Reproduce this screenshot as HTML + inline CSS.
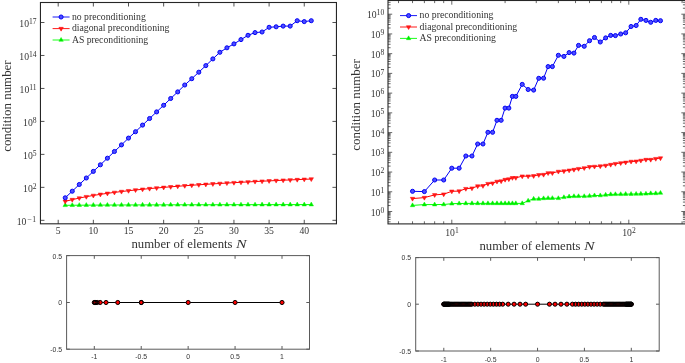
<!DOCTYPE html>
<html><head><meta charset="utf-8"><style>html,body{margin:0;padding:0;background:#fff;overflow:hidden}svg{display:block;will-change:transform}</style></head>
<body><svg width="685" height="363" viewBox="0 0 685 363"><rect x="40.45" y="2.5" width="296" height="221.3" fill="none" stroke="#262626" stroke-width="1.1"/><path d="M58.2,223.8v-4M58.2,2.5v4M93.35,223.8v-4M93.35,2.5v4M128.5,223.8v-4M128.5,2.5v4M163.65,223.8v-4M163.65,2.5v4M198.8,223.8v-4M198.8,2.5v4M233.95,223.8v-4M233.95,2.5v4M269.1,223.8v-4M269.1,2.5v4M304.25,223.8v-4M304.25,2.5v4M40.45,220.32h4M336.45,220.32h-4M40.45,187.35h4M336.45,187.35h-4M40.45,154.38h4M336.45,154.38h-4M40.45,121.41h4M336.45,121.41h-4M40.45,88.44h4M336.45,88.44h-4M40.45,55.47h4M336.45,55.47h-4M40.45,22.5h4M336.45,22.5h-4" stroke="#262626" stroke-width="0.8" fill="none"/><text x="58.2" y="234.1" text-anchor="middle" style="font-family:'Liberation Serif',serif;fill:#333;font-size:9.7px">5</text><text x="93.35" y="234.1" text-anchor="middle" style="font-family:'Liberation Serif',serif;fill:#333;font-size:9.7px">10</text><text x="128.5" y="234.1" text-anchor="middle" style="font-family:'Liberation Serif',serif;fill:#333;font-size:9.7px">15</text><text x="163.65" y="234.1" text-anchor="middle" style="font-family:'Liberation Serif',serif;fill:#333;font-size:9.7px">20</text><text x="198.8" y="234.1" text-anchor="middle" style="font-family:'Liberation Serif',serif;fill:#333;font-size:9.7px">25</text><text x="233.95" y="234.1" text-anchor="middle" style="font-family:'Liberation Serif',serif;fill:#333;font-size:9.7px">30</text><text x="269.1" y="234.1" text-anchor="middle" style="font-family:'Liberation Serif',serif;fill:#333;font-size:9.7px">35</text><text x="304.25" y="234.1" text-anchor="middle" style="font-family:'Liberation Serif',serif;fill:#333;font-size:9.7px">40</text><text x="16.7" y="224.67" style="font-family:'Liberation Serif',serif;fill:#333;font-size:9.7px">10</text><text x="27.2" y="221.77" textLength="4.6" lengthAdjust="spacingAndGlyphs" style="font-family:'Liberation Serif',serif;fill:#333;font-size:7.6px">−</text><text x="32.3" y="221.77" style="font-family:'Liberation Serif',serif;fill:#333;font-size:7.6px">1</text><text x="36.6" y="191.7" text-anchor="end" style="font-family:'Liberation Serif',serif;fill:#333;font-size:9.7px">10<tspan dy="-2.9" style="font-size:7.6px">2</tspan></text><text x="36.6" y="158.73" text-anchor="end" style="font-family:'Liberation Serif',serif;fill:#333;font-size:9.7px">10<tspan dy="-2.9" style="font-size:7.6px">5</tspan></text><text x="36.6" y="125.76" text-anchor="end" style="font-family:'Liberation Serif',serif;fill:#333;font-size:9.7px">10<tspan dy="-2.9" style="font-size:7.6px">8</tspan></text><text x="36.6" y="92.79" text-anchor="end" style="font-family:'Liberation Serif',serif;fill:#333;font-size:9.7px">10<tspan dy="-2.9" style="font-size:7.6px">11</tspan></text><text x="36.6" y="59.82" text-anchor="end" style="font-family:'Liberation Serif',serif;fill:#333;font-size:9.7px">10<tspan dy="-2.9" style="font-size:7.6px">14</tspan></text><text x="36.6" y="26.85" text-anchor="end" style="font-family:'Liberation Serif',serif;fill:#333;font-size:9.7px">10<tspan dy="-2.9" style="font-size:7.6px">17</tspan></text><polyline points="65.23,205.3 72.26,205.24 79.29,205.2 86.32,205.15 93.35,205.11 100.38,205.08 107.41,205.05 114.44,205.02 121.47,204.99 128.5,204.97 135.53,204.94 142.56,204.92 149.59,204.9 156.62,204.88 163.65,204.86 170.68,204.84 177.71,204.83 184.74,204.81 191.77,204.8 198.8,204.78 205.83,204.77 212.86,204.75 219.89,204.74 226.92,204.73 233.95,204.71 240.98,204.7 248.01,204.69 255.04,204.68 262.07,204.67 269.1,204.66 276.13,204.65 283.16,204.64 290.19,204.63 297.22,204.62 304.25,204.61 311.28,204.6" fill="none" stroke="#00ff00" stroke-width="1.0" stroke-linejoin="round"/><polygon points="65.23,202.75 63.02,206.58 67.44,206.58" fill="#00e600" stroke="#00ff00" stroke-width="0.5"/><polygon points="72.26,202.69 70.05,206.52 74.47,206.52" fill="#00e600" stroke="#00ff00" stroke-width="0.5"/><polygon points="79.29,202.65 77.08,206.47 81.5,206.47" fill="#00e600" stroke="#00ff00" stroke-width="0.5"/><polygon points="86.32,202.6 84.11,206.43 88.53,206.43" fill="#00e600" stroke="#00ff00" stroke-width="0.5"/><polygon points="93.35,202.56 91.14,206.39 95.56,206.39" fill="#00e600" stroke="#00ff00" stroke-width="0.5"/><polygon points="100.38,202.53 98.17,206.35 102.59,206.35" fill="#00e600" stroke="#00ff00" stroke-width="0.5"/><polygon points="107.41,202.5 105.2,206.32 109.62,206.32" fill="#00e600" stroke="#00ff00" stroke-width="0.5"/><polygon points="114.44,202.47 112.23,206.29 116.65,206.29" fill="#00e600" stroke="#00ff00" stroke-width="0.5"/><polygon points="121.47,202.44 119.26,206.27 123.68,206.27" fill="#00e600" stroke="#00ff00" stroke-width="0.5"/><polygon points="128.5,202.42 126.29,206.24 130.71,206.24" fill="#00e600" stroke="#00ff00" stroke-width="0.5"/><polygon points="135.53,202.39 133.32,206.22 137.74,206.22" fill="#00e600" stroke="#00ff00" stroke-width="0.5"/><polygon points="142.56,202.37 140.35,206.2 144.77,206.2" fill="#00e600" stroke="#00ff00" stroke-width="0.5"/><polygon points="149.59,202.35 147.38,206.17 151.8,206.17" fill="#00e600" stroke="#00ff00" stroke-width="0.5"/><polygon points="156.62,202.33 154.41,206.16 158.83,206.16" fill="#00e600" stroke="#00ff00" stroke-width="0.5"/><polygon points="163.65,202.31 161.44,206.14 165.86,206.14" fill="#00e600" stroke="#00ff00" stroke-width="0.5"/><polygon points="170.68,202.29 168.47,206.12 172.89,206.12" fill="#00e600" stroke="#00ff00" stroke-width="0.5"/><polygon points="177.71,202.28 175.5,206.1 179.92,206.1" fill="#00e600" stroke="#00ff00" stroke-width="0.5"/><polygon points="184.74,202.26 182.53,206.09 186.95,206.09" fill="#00e600" stroke="#00ff00" stroke-width="0.5"/><polygon points="191.77,202.25 189.56,206.07 193.98,206.07" fill="#00e600" stroke="#00ff00" stroke-width="0.5"/><polygon points="198.8,202.23 196.59,206.06 201.01,206.06" fill="#00e600" stroke="#00ff00" stroke-width="0.5"/><polygon points="205.83,202.22 203.62,206.04 208.04,206.04" fill="#00e600" stroke="#00ff00" stroke-width="0.5"/><polygon points="212.86,202.2 210.65,206.03 215.07,206.03" fill="#00e600" stroke="#00ff00" stroke-width="0.5"/><polygon points="219.89,202.19 217.68,206.01 222.1,206.01" fill="#00e600" stroke="#00ff00" stroke-width="0.5"/><polygon points="226.92,202.18 224.71,206 229.13,206" fill="#00e600" stroke="#00ff00" stroke-width="0.5"/><polygon points="233.95,202.16 231.74,205.99 236.16,205.99" fill="#00e600" stroke="#00ff00" stroke-width="0.5"/><polygon points="240.98,202.15 238.77,205.98 243.19,205.98" fill="#00e600" stroke="#00ff00" stroke-width="0.5"/><polygon points="248.01,202.14 245.8,205.97 250.22,205.97" fill="#00e600" stroke="#00ff00" stroke-width="0.5"/><polygon points="255.04,202.13 252.83,205.95 257.25,205.95" fill="#00e600" stroke="#00ff00" stroke-width="0.5"/><polygon points="262.07,202.12 259.86,205.94 264.28,205.94" fill="#00e600" stroke="#00ff00" stroke-width="0.5"/><polygon points="269.1,202.11 266.89,205.93 271.31,205.93" fill="#00e600" stroke="#00ff00" stroke-width="0.5"/><polygon points="276.13,202.1 273.92,205.92 278.34,205.92" fill="#00e600" stroke="#00ff00" stroke-width="0.5"/><polygon points="283.16,202.09 280.95,205.91 285.37,205.91" fill="#00e600" stroke="#00ff00" stroke-width="0.5"/><polygon points="290.19,202.08 287.98,205.9 292.4,205.9" fill="#00e600" stroke="#00ff00" stroke-width="0.5"/><polygon points="297.22,202.07 295.01,205.89 299.43,205.89" fill="#00e600" stroke="#00ff00" stroke-width="0.5"/><polygon points="304.25,202.06 302.04,205.88 306.46,205.88" fill="#00e600" stroke="#00ff00" stroke-width="0.5"/><polygon points="311.28,202.05 309.07,205.88 313.49,205.88" fill="#00e600" stroke="#00ff00" stroke-width="0.5"/><polyline points="65.23,201.4 72.26,199.61 79.29,198.05 86.32,196.68 93.35,195.45 100.38,194.35 107.41,193.33 114.44,192.4 121.47,191.54 128.5,190.74 135.53,189.98 142.56,189.28 149.59,188.61 156.62,187.98 163.65,187.39 170.68,186.82 177.71,186.28 184.74,185.76 191.77,185.26 198.8,184.79 205.83,184.33 212.86,183.89 219.89,183.47 226.92,183.06 233.95,182.67 240.98,182.29 248.01,181.92 255.04,181.56 262.07,181.21 269.1,180.87 276.13,180.55 283.16,180.23 290.19,179.92 297.22,179.61 304.25,179.32 311.28,179.03" fill="none" stroke="#ff0000" stroke-width="1.0" stroke-linejoin="round"/><polygon points="65.23,203.95 63.02,200.12 67.44,200.12" fill="#ff1a1a" stroke="#ff0000" stroke-width="0.5"/><polygon points="72.26,202.16 70.05,198.33 74.47,198.33" fill="#ff1a1a" stroke="#ff0000" stroke-width="0.5"/><polygon points="79.29,200.6 77.08,196.78 81.5,196.78" fill="#ff1a1a" stroke="#ff0000" stroke-width="0.5"/><polygon points="86.32,199.23 84.11,195.41 88.53,195.41" fill="#ff1a1a" stroke="#ff0000" stroke-width="0.5"/><polygon points="93.35,198 91.14,194.18 95.56,194.18" fill="#ff1a1a" stroke="#ff0000" stroke-width="0.5"/><polygon points="100.38,196.9 98.17,193.07 102.59,193.07" fill="#ff1a1a" stroke="#ff0000" stroke-width="0.5"/><polygon points="107.41,195.88 105.2,192.06 109.62,192.06" fill="#ff1a1a" stroke="#ff0000" stroke-width="0.5"/><polygon points="114.44,194.95 112.23,191.13 116.65,191.13" fill="#ff1a1a" stroke="#ff0000" stroke-width="0.5"/><polygon points="121.47,194.09 119.26,190.26 123.68,190.26" fill="#ff1a1a" stroke="#ff0000" stroke-width="0.5"/><polygon points="128.5,193.29 126.29,189.46 130.71,189.46" fill="#ff1a1a" stroke="#ff0000" stroke-width="0.5"/><polygon points="135.53,192.53 133.32,188.71 137.74,188.71" fill="#ff1a1a" stroke="#ff0000" stroke-width="0.5"/><polygon points="142.56,191.83 140.35,188 144.77,188" fill="#ff1a1a" stroke="#ff0000" stroke-width="0.5"/><polygon points="149.59,191.16 147.38,187.34 151.8,187.34" fill="#ff1a1a" stroke="#ff0000" stroke-width="0.5"/><polygon points="156.62,190.53 154.41,186.71 158.83,186.71" fill="#ff1a1a" stroke="#ff0000" stroke-width="0.5"/><polygon points="163.65,189.94 161.44,186.11 165.86,186.11" fill="#ff1a1a" stroke="#ff0000" stroke-width="0.5"/><polygon points="170.68,189.37 168.47,185.54 172.89,185.54" fill="#ff1a1a" stroke="#ff0000" stroke-width="0.5"/><polygon points="177.71,188.83 175.5,185 179.92,185" fill="#ff1a1a" stroke="#ff0000" stroke-width="0.5"/><polygon points="184.74,188.31 182.53,184.49 186.95,184.49" fill="#ff1a1a" stroke="#ff0000" stroke-width="0.5"/><polygon points="191.77,187.81 189.56,183.99 193.98,183.99" fill="#ff1a1a" stroke="#ff0000" stroke-width="0.5"/><polygon points="198.8,187.34 196.59,183.51 201.01,183.51" fill="#ff1a1a" stroke="#ff0000" stroke-width="0.5"/><polygon points="205.83,186.88 203.62,183.06 208.04,183.06" fill="#ff1a1a" stroke="#ff0000" stroke-width="0.5"/><polygon points="212.86,186.44 210.65,182.62 215.07,182.62" fill="#ff1a1a" stroke="#ff0000" stroke-width="0.5"/><polygon points="219.89,186.02 217.68,182.2 222.1,182.2" fill="#ff1a1a" stroke="#ff0000" stroke-width="0.5"/><polygon points="226.92,185.61 224.71,181.79 229.13,181.79" fill="#ff1a1a" stroke="#ff0000" stroke-width="0.5"/><polygon points="233.95,185.22 231.74,181.39 236.16,181.39" fill="#ff1a1a" stroke="#ff0000" stroke-width="0.5"/><polygon points="240.98,184.84 238.77,181.01 243.19,181.01" fill="#ff1a1a" stroke="#ff0000" stroke-width="0.5"/><polygon points="248.01,184.47 245.8,180.64 250.22,180.64" fill="#ff1a1a" stroke="#ff0000" stroke-width="0.5"/><polygon points="255.04,184.11 252.83,180.28 257.25,180.28" fill="#ff1a1a" stroke="#ff0000" stroke-width="0.5"/><polygon points="262.07,183.76 259.86,179.94 264.28,179.94" fill="#ff1a1a" stroke="#ff0000" stroke-width="0.5"/><polygon points="269.1,183.42 266.89,179.6 271.31,179.6" fill="#ff1a1a" stroke="#ff0000" stroke-width="0.5"/><polygon points="276.13,183.1 273.92,179.27 278.34,179.27" fill="#ff1a1a" stroke="#ff0000" stroke-width="0.5"/><polygon points="283.16,182.78 280.95,178.95 285.37,178.95" fill="#ff1a1a" stroke="#ff0000" stroke-width="0.5"/><polygon points="290.19,182.47 287.98,178.64 292.4,178.64" fill="#ff1a1a" stroke="#ff0000" stroke-width="0.5"/><polygon points="297.22,182.16 295.01,178.34 299.43,178.34" fill="#ff1a1a" stroke="#ff0000" stroke-width="0.5"/><polygon points="304.25,181.87 302.04,178.04 306.46,178.04" fill="#ff1a1a" stroke="#ff0000" stroke-width="0.5"/><polygon points="311.28,181.58 309.07,177.76 313.49,177.76" fill="#ff1a1a" stroke="#ff0000" stroke-width="0.5"/><polyline points="65.23,197.8 72.26,191.2 79.29,184.5 86.32,178 93.35,171.4 100.38,164.8 107.41,158.2 114.44,151.5 121.47,144.9 128.5,138.1 135.53,131.7 142.56,125.1 149.59,118.5 156.62,111.9 163.65,105.3 170.68,98.5 177.71,91.9 184.74,85 191.77,78.7 198.8,72.2 205.83,65.6 212.86,58.9 219.89,52.3 226.92,47.8 233.95,43.9 240.98,39.6 248.01,35.3 255.04,32.6 262.07,32 269.1,27.3 276.13,26.8 283.16,26.1 290.19,26.1 297.22,20.7 304.25,21.6 311.28,20.7" fill="none" stroke="#0000f5" stroke-width="1.0" stroke-linejoin="round"/><circle cx="65.23" cy="197.8" r="2.05" fill="#4d4dff" stroke="#0000f5" stroke-width="1.0"/><circle cx="72.26" cy="191.2" r="2.05" fill="#4d4dff" stroke="#0000f5" stroke-width="1.0"/><circle cx="79.29" cy="184.5" r="2.05" fill="#4d4dff" stroke="#0000f5" stroke-width="1.0"/><circle cx="86.32" cy="178" r="2.05" fill="#4d4dff" stroke="#0000f5" stroke-width="1.0"/><circle cx="93.35" cy="171.4" r="2.05" fill="#4d4dff" stroke="#0000f5" stroke-width="1.0"/><circle cx="100.38" cy="164.8" r="2.05" fill="#4d4dff" stroke="#0000f5" stroke-width="1.0"/><circle cx="107.41" cy="158.2" r="2.05" fill="#4d4dff" stroke="#0000f5" stroke-width="1.0"/><circle cx="114.44" cy="151.5" r="2.05" fill="#4d4dff" stroke="#0000f5" stroke-width="1.0"/><circle cx="121.47" cy="144.9" r="2.05" fill="#4d4dff" stroke="#0000f5" stroke-width="1.0"/><circle cx="128.5" cy="138.1" r="2.05" fill="#4d4dff" stroke="#0000f5" stroke-width="1.0"/><circle cx="135.53" cy="131.7" r="2.05" fill="#4d4dff" stroke="#0000f5" stroke-width="1.0"/><circle cx="142.56" cy="125.1" r="2.05" fill="#4d4dff" stroke="#0000f5" stroke-width="1.0"/><circle cx="149.59" cy="118.5" r="2.05" fill="#4d4dff" stroke="#0000f5" stroke-width="1.0"/><circle cx="156.62" cy="111.9" r="2.05" fill="#4d4dff" stroke="#0000f5" stroke-width="1.0"/><circle cx="163.65" cy="105.3" r="2.05" fill="#4d4dff" stroke="#0000f5" stroke-width="1.0"/><circle cx="170.68" cy="98.5" r="2.05" fill="#4d4dff" stroke="#0000f5" stroke-width="1.0"/><circle cx="177.71" cy="91.9" r="2.05" fill="#4d4dff" stroke="#0000f5" stroke-width="1.0"/><circle cx="184.74" cy="85" r="2.05" fill="#4d4dff" stroke="#0000f5" stroke-width="1.0"/><circle cx="191.77" cy="78.7" r="2.05" fill="#4d4dff" stroke="#0000f5" stroke-width="1.0"/><circle cx="198.8" cy="72.2" r="2.05" fill="#4d4dff" stroke="#0000f5" stroke-width="1.0"/><circle cx="205.83" cy="65.6" r="2.05" fill="#4d4dff" stroke="#0000f5" stroke-width="1.0"/><circle cx="212.86" cy="58.9" r="2.05" fill="#4d4dff" stroke="#0000f5" stroke-width="1.0"/><circle cx="219.89" cy="52.3" r="2.05" fill="#4d4dff" stroke="#0000f5" stroke-width="1.0"/><circle cx="226.92" cy="47.8" r="2.05" fill="#4d4dff" stroke="#0000f5" stroke-width="1.0"/><circle cx="233.95" cy="43.9" r="2.05" fill="#4d4dff" stroke="#0000f5" stroke-width="1.0"/><circle cx="240.98" cy="39.6" r="2.05" fill="#4d4dff" stroke="#0000f5" stroke-width="1.0"/><circle cx="248.01" cy="35.3" r="2.05" fill="#4d4dff" stroke="#0000f5" stroke-width="1.0"/><circle cx="255.04" cy="32.6" r="2.05" fill="#4d4dff" stroke="#0000f5" stroke-width="1.0"/><circle cx="262.07" cy="32" r="2.05" fill="#4d4dff" stroke="#0000f5" stroke-width="1.0"/><circle cx="269.1" cy="27.3" r="2.05" fill="#4d4dff" stroke="#0000f5" stroke-width="1.0"/><circle cx="276.13" cy="26.8" r="2.05" fill="#4d4dff" stroke="#0000f5" stroke-width="1.0"/><circle cx="283.16" cy="26.1" r="2.05" fill="#4d4dff" stroke="#0000f5" stroke-width="1.0"/><circle cx="290.19" cy="26.1" r="2.05" fill="#4d4dff" stroke="#0000f5" stroke-width="1.0"/><circle cx="297.22" cy="20.7" r="2.05" fill="#4d4dff" stroke="#0000f5" stroke-width="1.0"/><circle cx="304.25" cy="21.6" r="2.05" fill="#4d4dff" stroke="#0000f5" stroke-width="1.0"/><circle cx="311.28" cy="20.7" r="2.05" fill="#4d4dff" stroke="#0000f5" stroke-width="1.0"/><line x1="52.6" y1="17.0" x2="69.6" y2="17.0" stroke="#0000f5" stroke-width="0.9"/><circle cx="61.1" cy="17" r="2.05" fill="#4d4dff" stroke="#0000f5" stroke-width="1.0"/><line x1="52.6" y1="28.6" x2="69.6" y2="28.6" stroke="#ff0000" stroke-width="0.9"/><polygon points="61.1,31.15 58.89,27.33 63.31,27.33" fill="#ff1a1a" stroke="#ff0000" stroke-width="0.5"/><line x1="52.6" y1="40.0" x2="69.6" y2="40.0" stroke="#00ff00" stroke-width="0.9"/><polygon points="61.1,37.45 58.89,41.27 63.31,41.27" fill="#00e600" stroke="#00ff00" stroke-width="0.5"/><text x="71.9" y="19.5" textLength="73.9" lengthAdjust="spacingAndGlyphs" style="font-family:'Liberation Serif',serif;fill:#333;font-size:9.3px">no preconditioning</text><text x="71.9" y="31.1" textLength="97.6" lengthAdjust="spacingAndGlyphs" style="font-family:'Liberation Serif',serif;fill:#333;font-size:9.3px">diagonal preconditioning</text><text x="71.9" y="42.5" textLength="76.3" lengthAdjust="spacingAndGlyphs" style="font-family:'Liberation Serif',serif;fill:#333;font-size:9.3px">AS preconditioning</text><text x="131.4" y="247.8" textLength="101.2" lengthAdjust="spacingAndGlyphs" style="font-family:'Liberation Serif',serif;fill:#333;font-size:12.8px">number of elements</text><text x="236.0" y="247.8" textLength="10.6" lengthAdjust="spacingAndGlyphs" style="font-family:'Liberation Serif',serif;fill:#333;font-size:13.2px;font-style:italic">N</text><text transform="translate(10.8,106.1) rotate(-90)" text-anchor="middle" textLength="91.5" lengthAdjust="spacingAndGlyphs" style="font-family:'Liberation Serif',serif;fill:#333;font-size:12.8px">condition number</text><rect x="388.0" y="0.5" width="297.5" height="223.4" fill="none" stroke="#262626" stroke-width="1.1"/><path d="M398.52,223.9v-2.6M398.52,0.5v2.6M412.53,223.9v-2.6M412.53,0.5v2.6M424.38,223.9v-2.6M424.38,0.5v2.6M434.65,223.9v-2.6M434.65,0.5v2.6M443.7,223.9v-2.6M443.7,0.5v2.6M505.08,223.9v-2.6M505.08,0.5v2.6M536.25,223.9v-2.6M536.25,0.5v2.6M558.36,223.9v-2.6M558.36,0.5v2.6M575.52,223.9v-2.6M575.52,0.5v2.6M589.53,223.9v-2.6M589.53,0.5v2.6M601.38,223.9v-2.6M601.38,0.5v2.6M611.65,223.9v-2.6M611.65,0.5v2.6M620.7,223.9v-2.6M620.7,0.5v2.6M682.08,223.9v-2.6M682.08,0.5v2.6M451.8,223.9v-4.2M451.8,0.5v4.2M628.8,223.9v-4.2M628.8,0.5v4.2M388.0,221.82h2.6M685.5,221.82h-2.6M388.0,219.35h2.6M685.5,219.35h-2.6M388.0,217.44h2.6M685.5,217.44h-2.6M388.0,215.88h2.6M685.5,215.88h-2.6M388.0,214.56h2.6M685.5,214.56h-2.6M388.0,213.41h2.6M685.5,213.41h-2.6M388.0,212.4h2.6M685.5,212.4h-2.6M388.0,211.5h4.2M685.5,211.5h-4.2M388.0,205.56h2.6M685.5,205.56h-2.6M388.0,202.09h2.6M685.5,202.09h-2.6M388.0,199.62h2.6M685.5,199.62h-2.6M388.0,197.71h2.6M685.5,197.71h-2.6M388.0,196.15h2.6M685.5,196.15h-2.6M388.0,194.83h2.6M685.5,194.83h-2.6M388.0,193.68h2.6M685.5,193.68h-2.6M388.0,192.67h2.6M685.5,192.67h-2.6M388.0,191.77h4.2M685.5,191.77h-4.2M388.0,185.83h2.6M685.5,185.83h-2.6M388.0,182.36h2.6M685.5,182.36h-2.6M388.0,179.89h2.6M685.5,179.89h-2.6M388.0,177.98h2.6M685.5,177.98h-2.6M388.0,176.42h2.6M685.5,176.42h-2.6M388.0,175.1h2.6M685.5,175.1h-2.6M388.0,173.95h2.6M685.5,173.95h-2.6M388.0,172.94h2.6M685.5,172.94h-2.6M388.0,172.04h4.2M685.5,172.04h-4.2M388.0,166.1h2.6M685.5,166.1h-2.6M388.0,162.63h2.6M685.5,162.63h-2.6M388.0,160.16h2.6M685.5,160.16h-2.6M388.0,158.25h2.6M685.5,158.25h-2.6M388.0,156.69h2.6M685.5,156.69h-2.6M388.0,155.37h2.6M685.5,155.37h-2.6M388.0,154.22h2.6M685.5,154.22h-2.6M388.0,153.21h2.6M685.5,153.21h-2.6M388.0,152.31h4.2M685.5,152.31h-4.2M388.0,146.37h2.6M685.5,146.37h-2.6M388.0,142.9h2.6M685.5,142.9h-2.6M388.0,140.43h2.6M685.5,140.43h-2.6M388.0,138.52h2.6M685.5,138.52h-2.6M388.0,136.96h2.6M685.5,136.96h-2.6M388.0,135.64h2.6M685.5,135.64h-2.6M388.0,134.49h2.6M685.5,134.49h-2.6M388.0,133.48h2.6M685.5,133.48h-2.6M388.0,132.58h4.2M685.5,132.58h-4.2M388.0,126.64h2.6M685.5,126.64h-2.6M388.0,123.17h2.6M685.5,123.17h-2.6M388.0,120.7h2.6M685.5,120.7h-2.6M388.0,118.79h2.6M685.5,118.79h-2.6M388.0,117.23h2.6M685.5,117.23h-2.6M388.0,115.91h2.6M685.5,115.91h-2.6M388.0,114.76h2.6M685.5,114.76h-2.6M388.0,113.75h2.6M685.5,113.75h-2.6M388.0,112.85h4.2M685.5,112.85h-4.2M388.0,106.91h2.6M685.5,106.91h-2.6M388.0,103.44h2.6M685.5,103.44h-2.6M388.0,100.97h2.6M685.5,100.97h-2.6M388.0,99.06h2.6M685.5,99.06h-2.6M388.0,97.5h2.6M685.5,97.5h-2.6M388.0,96.18h2.6M685.5,96.18h-2.6M388.0,95.03h2.6M685.5,95.03h-2.6M388.0,94.02h2.6M685.5,94.02h-2.6M388.0,93.12h4.2M685.5,93.12h-4.2M388.0,87.18h2.6M685.5,87.18h-2.6M388.0,83.71h2.6M685.5,83.71h-2.6M388.0,81.24h2.6M685.5,81.24h-2.6M388.0,79.33h2.6M685.5,79.33h-2.6M388.0,77.77h2.6M685.5,77.77h-2.6M388.0,76.45h2.6M685.5,76.45h-2.6M388.0,75.3h2.6M685.5,75.3h-2.6M388.0,74.29h2.6M685.5,74.29h-2.6M388.0,73.39h4.2M685.5,73.39h-4.2M388.0,67.45h2.6M685.5,67.45h-2.6M388.0,63.98h2.6M685.5,63.98h-2.6M388.0,61.51h2.6M685.5,61.51h-2.6M388.0,59.6h2.6M685.5,59.6h-2.6M388.0,58.04h2.6M685.5,58.04h-2.6M388.0,56.72h2.6M685.5,56.72h-2.6M388.0,55.57h2.6M685.5,55.57h-2.6M388.0,54.56h2.6M685.5,54.56h-2.6M388.0,53.66h4.2M685.5,53.66h-4.2M388.0,47.72h2.6M685.5,47.72h-2.6M388.0,44.25h2.6M685.5,44.25h-2.6M388.0,41.78h2.6M685.5,41.78h-2.6M388.0,39.87h2.6M685.5,39.87h-2.6M388.0,38.31h2.6M685.5,38.31h-2.6M388.0,36.99h2.6M685.5,36.99h-2.6M388.0,35.84h2.6M685.5,35.84h-2.6M388.0,34.83h2.6M685.5,34.83h-2.6M388.0,33.93h4.2M685.5,33.93h-4.2M388.0,27.99h2.6M685.5,27.99h-2.6M388.0,24.52h2.6M685.5,24.52h-2.6M388.0,22.05h2.6M685.5,22.05h-2.6M388.0,20.14h2.6M685.5,20.14h-2.6M388.0,18.58h2.6M685.5,18.58h-2.6M388.0,17.26h2.6M685.5,17.26h-2.6M388.0,16.11h2.6M685.5,16.11h-2.6M388.0,15.1h2.6M685.5,15.1h-2.6M388.0,14.2h4.2M685.5,14.2h-4.2M388.0,8.26h2.6M685.5,8.26h-2.6M388.0,4.79h2.6M685.5,4.79h-2.6M388.0,2.32h2.6M685.5,2.32h-2.6" stroke="#262626" stroke-width="0.7" fill="none"/><text x="384.2" y="215.6" text-anchor="end" style="font-family:'Liberation Serif',serif;fill:#333;font-size:9.7px">10<tspan dy="-2.9" style="font-size:7.6px">0</tspan></text><text x="384.2" y="195.87" text-anchor="end" style="font-family:'Liberation Serif',serif;fill:#333;font-size:9.7px">10<tspan dy="-2.9" style="font-size:7.6px">1</tspan></text><text x="384.2" y="176.14" text-anchor="end" style="font-family:'Liberation Serif',serif;fill:#333;font-size:9.7px">10<tspan dy="-2.9" style="font-size:7.6px">2</tspan></text><text x="384.2" y="156.41" text-anchor="end" style="font-family:'Liberation Serif',serif;fill:#333;font-size:9.7px">10<tspan dy="-2.9" style="font-size:7.6px">3</tspan></text><text x="384.2" y="136.68" text-anchor="end" style="font-family:'Liberation Serif',serif;fill:#333;font-size:9.7px">10<tspan dy="-2.9" style="font-size:7.6px">4</tspan></text><text x="384.2" y="116.95" text-anchor="end" style="font-family:'Liberation Serif',serif;fill:#333;font-size:9.7px">10<tspan dy="-2.9" style="font-size:7.6px">5</tspan></text><text x="384.2" y="97.22" text-anchor="end" style="font-family:'Liberation Serif',serif;fill:#333;font-size:9.7px">10<tspan dy="-2.9" style="font-size:7.6px">6</tspan></text><text x="384.2" y="77.49" text-anchor="end" style="font-family:'Liberation Serif',serif;fill:#333;font-size:9.7px">10<tspan dy="-2.9" style="font-size:7.6px">7</tspan></text><text x="384.2" y="57.76" text-anchor="end" style="font-family:'Liberation Serif',serif;fill:#333;font-size:9.7px">10<tspan dy="-2.9" style="font-size:7.6px">8</tspan></text><text x="384.2" y="38.03" text-anchor="end" style="font-family:'Liberation Serif',serif;fill:#333;font-size:9.7px">10<tspan dy="-2.9" style="font-size:7.6px">9</tspan></text><text x="384.2" y="18.3" text-anchor="end" style="font-family:'Liberation Serif',serif;fill:#333;font-size:9.7px">10<tspan dy="-2.9" style="font-size:7.6px">10</tspan></text><text x="452" y="235.6" text-anchor="middle" style="font-family:'Liberation Serif',serif;fill:#333;font-size:9.7px">10<tspan dy="-2.9" style="font-size:7.6px">1</tspan></text><text x="629" y="235.6" text-anchor="middle" style="font-family:'Liberation Serif',serif;fill:#333;font-size:9.7px">10<tspan dy="-2.9" style="font-size:7.6px">2</tspan></text><polyline points="412.53,205.4 424.38,204.6 434.65,204.6 443.7,204.5 451.8,203.7 459.13,203.5 465.82,203.4 471.97,203.4 477.66,203.4 482.97,203.4 487.93,203.4 492.59,203.4 496.98,203.4 501.14,203.4 505.08,203.4 508.83,203.4 512.41,203.4 515.83,203.4 522.24,203.4 528.15,200.8 533.64,198.9 538.77,199 543.58,198.4 548.1,198.2 552.37,198.2 558.36,198.3 563.92,197.3 569.11,196.6 573.96,196.3 578.53,196.3 584.23,196.3 589.53,196 594.49,195.5 600.28,195.5 605.65,194.9 610.68,194.4 615.4,194.3 620.7,194.3 625.66,194.1 631.07,194.1 636.13,194 640.87,193.9 645.95,193.8 650.72,193.4 655.76,193.4 660.48,193" fill="none" stroke="#00ff00" stroke-width="1.0" stroke-linejoin="round"/><polygon points="412.53,202.85 410.32,206.68 414.74,206.68" fill="#00e600" stroke="#00ff00" stroke-width="0.5"/><polygon points="424.38,202.05 422.17,205.88 426.59,205.88" fill="#00e600" stroke="#00ff00" stroke-width="0.5"/><polygon points="434.65,202.05 432.44,205.88 436.86,205.88" fill="#00e600" stroke="#00ff00" stroke-width="0.5"/><polygon points="443.7,201.95 441.49,205.78 445.91,205.78" fill="#00e600" stroke="#00ff00" stroke-width="0.5"/><polygon points="451.8,201.15 449.59,204.97 454.01,204.97" fill="#00e600" stroke="#00ff00" stroke-width="0.5"/><polygon points="459.13,200.95 456.92,204.78 461.33,204.78" fill="#00e600" stroke="#00ff00" stroke-width="0.5"/><polygon points="465.82,200.85 463.61,204.68 468.02,204.68" fill="#00e600" stroke="#00ff00" stroke-width="0.5"/><polygon points="471.97,200.85 469.76,204.68 474.18,204.68" fill="#00e600" stroke="#00ff00" stroke-width="0.5"/><polygon points="477.66,200.85 475.46,204.68 479.87,204.68" fill="#00e600" stroke="#00ff00" stroke-width="0.5"/><polygon points="482.97,200.85 480.76,204.68 485.18,204.68" fill="#00e600" stroke="#00ff00" stroke-width="0.5"/><polygon points="487.93,200.85 485.72,204.68 490.14,204.68" fill="#00e600" stroke="#00ff00" stroke-width="0.5"/><polygon points="492.59,200.85 490.38,204.68 494.8,204.68" fill="#00e600" stroke="#00ff00" stroke-width="0.5"/><polygon points="496.98,200.85 494.77,204.68 499.19,204.68" fill="#00e600" stroke="#00ff00" stroke-width="0.5"/><polygon points="501.14,200.85 498.93,204.68 503.35,204.68" fill="#00e600" stroke="#00ff00" stroke-width="0.5"/><polygon points="505.08,200.85 502.87,204.68 507.29,204.68" fill="#00e600" stroke="#00ff00" stroke-width="0.5"/><polygon points="508.83,200.85 506.62,204.68 511.04,204.68" fill="#00e600" stroke="#00ff00" stroke-width="0.5"/><polygon points="512.41,200.85 510.2,204.68 514.62,204.68" fill="#00e600" stroke="#00ff00" stroke-width="0.5"/><polygon points="515.83,200.85 513.62,204.68 518.03,204.68" fill="#00e600" stroke="#00ff00" stroke-width="0.5"/><polygon points="522.24,200.85 520.03,204.68 524.44,204.68" fill="#00e600" stroke="#00ff00" stroke-width="0.5"/><polygon points="528.15,198.25 525.94,202.08 530.36,202.08" fill="#00e600" stroke="#00ff00" stroke-width="0.5"/><polygon points="533.64,196.35 531.44,200.18 535.85,200.18" fill="#00e600" stroke="#00ff00" stroke-width="0.5"/><polygon points="538.77,196.45 536.56,200.28 540.98,200.28" fill="#00e600" stroke="#00ff00" stroke-width="0.5"/><polygon points="543.58,195.85 541.37,199.68 545.79,199.68" fill="#00e600" stroke="#00ff00" stroke-width="0.5"/><polygon points="548.1,195.65 545.89,199.47 550.31,199.47" fill="#00e600" stroke="#00ff00" stroke-width="0.5"/><polygon points="552.37,195.65 550.16,199.47 554.58,199.47" fill="#00e600" stroke="#00ff00" stroke-width="0.5"/><polygon points="558.36,195.75 556.16,199.58 560.57,199.58" fill="#00e600" stroke="#00ff00" stroke-width="0.5"/><polygon points="563.92,194.75 561.72,198.58 566.13,198.58" fill="#00e600" stroke="#00ff00" stroke-width="0.5"/><polygon points="569.11,194.05 566.9,197.88 571.32,197.88" fill="#00e600" stroke="#00ff00" stroke-width="0.5"/><polygon points="573.96,193.75 571.76,197.58 576.17,197.58" fill="#00e600" stroke="#00ff00" stroke-width="0.5"/><polygon points="578.53,193.75 576.32,197.58 580.74,197.58" fill="#00e600" stroke="#00ff00" stroke-width="0.5"/><polygon points="584.23,193.75 582.02,197.58 586.44,197.58" fill="#00e600" stroke="#00ff00" stroke-width="0.5"/><polygon points="589.53,193.45 587.32,197.28 591.74,197.28" fill="#00e600" stroke="#00ff00" stroke-width="0.5"/><polygon points="594.49,192.95 592.29,196.78 596.7,196.78" fill="#00e600" stroke="#00ff00" stroke-width="0.5"/><polygon points="600.28,192.95 598.07,196.78 602.48,196.78" fill="#00e600" stroke="#00ff00" stroke-width="0.5"/><polygon points="605.65,192.35 603.45,196.18 607.86,196.18" fill="#00e600" stroke="#00ff00" stroke-width="0.5"/><polygon points="610.68,191.85 608.47,195.68 612.89,195.68" fill="#00e600" stroke="#00ff00" stroke-width="0.5"/><polygon points="615.4,191.75 613.19,195.58 617.61,195.58" fill="#00e600" stroke="#00ff00" stroke-width="0.5"/><polygon points="620.7,191.75 618.49,195.58 622.91,195.58" fill="#00e600" stroke="#00ff00" stroke-width="0.5"/><polygon points="625.66,191.55 623.45,195.38 627.87,195.38" fill="#00e600" stroke="#00ff00" stroke-width="0.5"/><polygon points="631.07,191.55 628.86,195.38 633.28,195.38" fill="#00e600" stroke="#00ff00" stroke-width="0.5"/><polygon points="636.13,191.45 633.92,195.28 638.33,195.28" fill="#00e600" stroke="#00ff00" stroke-width="0.5"/><polygon points="640.87,191.35 638.66,195.18 643.08,195.18" fill="#00e600" stroke="#00ff00" stroke-width="0.5"/><polygon points="645.95,191.25 643.74,195.08 648.16,195.08" fill="#00e600" stroke="#00ff00" stroke-width="0.5"/><polygon points="650.72,190.85 648.51,194.68 652.93,194.68" fill="#00e600" stroke="#00ff00" stroke-width="0.5"/><polygon points="655.76,190.85 653.55,194.68 657.96,194.68" fill="#00e600" stroke="#00ff00" stroke-width="0.5"/><polygon points="660.48,190.45 658.27,194.28 662.69,194.28" fill="#00e600" stroke="#00ff00" stroke-width="0.5"/><polyline points="412.53,198.6 424.38,197.6 434.65,194.9 443.7,194.2 451.8,191.3 459.13,191.1 465.82,188.7 471.97,188.2 477.66,186.1 482.97,185.8 487.93,183.7 492.59,183.2 496.98,181.5 501.14,181.1 505.08,179.6 508.83,179.1 512.41,177.8 515.83,177.8 522.24,176.2 528.15,176.2 533.64,175.9 538.77,174.9 543.58,174.6 548.1,173 552.37,173 558.36,171.5 563.92,171.1 569.11,170.3 573.96,169.6 578.53,168.7 584.23,168 589.53,166.8 594.49,166.5 600.28,166.1 605.65,165.5 610.68,164.6 615.4,163.7 620.7,163 625.66,162.4 631.07,161.5 636.13,161.3 640.87,160.5 645.95,159.6 650.72,159.6 655.76,158.7 660.48,158.1" fill="none" stroke="#ff0000" stroke-width="1.0" stroke-linejoin="round"/><polygon points="412.53,201.15 410.32,197.32 414.74,197.32" fill="#ff1a1a" stroke="#ff0000" stroke-width="0.5"/><polygon points="424.38,200.15 422.17,196.32 426.59,196.32" fill="#ff1a1a" stroke="#ff0000" stroke-width="0.5"/><polygon points="434.65,197.45 432.44,193.62 436.86,193.62" fill="#ff1a1a" stroke="#ff0000" stroke-width="0.5"/><polygon points="443.7,196.75 441.49,192.92 445.91,192.92" fill="#ff1a1a" stroke="#ff0000" stroke-width="0.5"/><polygon points="451.8,193.85 449.59,190.03 454.01,190.03" fill="#ff1a1a" stroke="#ff0000" stroke-width="0.5"/><polygon points="459.13,193.65 456.92,189.82 461.33,189.82" fill="#ff1a1a" stroke="#ff0000" stroke-width="0.5"/><polygon points="465.82,191.25 463.61,187.42 468.02,187.42" fill="#ff1a1a" stroke="#ff0000" stroke-width="0.5"/><polygon points="471.97,190.75 469.76,186.92 474.18,186.92" fill="#ff1a1a" stroke="#ff0000" stroke-width="0.5"/><polygon points="477.66,188.65 475.46,184.82 479.87,184.82" fill="#ff1a1a" stroke="#ff0000" stroke-width="0.5"/><polygon points="482.97,188.35 480.76,184.53 485.18,184.53" fill="#ff1a1a" stroke="#ff0000" stroke-width="0.5"/><polygon points="487.93,186.25 485.72,182.42 490.14,182.42" fill="#ff1a1a" stroke="#ff0000" stroke-width="0.5"/><polygon points="492.59,185.75 490.38,181.92 494.8,181.92" fill="#ff1a1a" stroke="#ff0000" stroke-width="0.5"/><polygon points="496.98,184.05 494.77,180.22 499.19,180.22" fill="#ff1a1a" stroke="#ff0000" stroke-width="0.5"/><polygon points="501.14,183.65 498.93,179.82 503.35,179.82" fill="#ff1a1a" stroke="#ff0000" stroke-width="0.5"/><polygon points="505.08,182.15 502.87,178.32 507.29,178.32" fill="#ff1a1a" stroke="#ff0000" stroke-width="0.5"/><polygon points="508.83,181.65 506.62,177.82 511.04,177.82" fill="#ff1a1a" stroke="#ff0000" stroke-width="0.5"/><polygon points="512.41,180.35 510.2,176.53 514.62,176.53" fill="#ff1a1a" stroke="#ff0000" stroke-width="0.5"/><polygon points="515.83,180.35 513.62,176.53 518.03,176.53" fill="#ff1a1a" stroke="#ff0000" stroke-width="0.5"/><polygon points="522.24,178.75 520.03,174.92 524.44,174.92" fill="#ff1a1a" stroke="#ff0000" stroke-width="0.5"/><polygon points="528.15,178.75 525.94,174.92 530.36,174.92" fill="#ff1a1a" stroke="#ff0000" stroke-width="0.5"/><polygon points="533.64,178.45 531.44,174.62 535.85,174.62" fill="#ff1a1a" stroke="#ff0000" stroke-width="0.5"/><polygon points="538.77,177.45 536.56,173.62 540.98,173.62" fill="#ff1a1a" stroke="#ff0000" stroke-width="0.5"/><polygon points="543.58,177.15 541.37,173.32 545.79,173.32" fill="#ff1a1a" stroke="#ff0000" stroke-width="0.5"/><polygon points="548.1,175.55 545.89,171.72 550.31,171.72" fill="#ff1a1a" stroke="#ff0000" stroke-width="0.5"/><polygon points="552.37,175.55 550.16,171.72 554.58,171.72" fill="#ff1a1a" stroke="#ff0000" stroke-width="0.5"/><polygon points="558.36,174.05 556.16,170.22 560.57,170.22" fill="#ff1a1a" stroke="#ff0000" stroke-width="0.5"/><polygon points="563.92,173.65 561.72,169.82 566.13,169.82" fill="#ff1a1a" stroke="#ff0000" stroke-width="0.5"/><polygon points="569.11,172.85 566.9,169.03 571.32,169.03" fill="#ff1a1a" stroke="#ff0000" stroke-width="0.5"/><polygon points="573.96,172.15 571.76,168.32 576.17,168.32" fill="#ff1a1a" stroke="#ff0000" stroke-width="0.5"/><polygon points="578.53,171.25 576.32,167.42 580.74,167.42" fill="#ff1a1a" stroke="#ff0000" stroke-width="0.5"/><polygon points="584.23,170.55 582.02,166.72 586.44,166.72" fill="#ff1a1a" stroke="#ff0000" stroke-width="0.5"/><polygon points="589.53,169.35 587.32,165.53 591.74,165.53" fill="#ff1a1a" stroke="#ff0000" stroke-width="0.5"/><polygon points="594.49,169.05 592.29,165.22 596.7,165.22" fill="#ff1a1a" stroke="#ff0000" stroke-width="0.5"/><polygon points="600.28,168.65 598.07,164.82 602.48,164.82" fill="#ff1a1a" stroke="#ff0000" stroke-width="0.5"/><polygon points="605.65,168.05 603.45,164.22 607.86,164.22" fill="#ff1a1a" stroke="#ff0000" stroke-width="0.5"/><polygon points="610.68,167.15 608.47,163.32 612.89,163.32" fill="#ff1a1a" stroke="#ff0000" stroke-width="0.5"/><polygon points="615.4,166.25 613.19,162.42 617.61,162.42" fill="#ff1a1a" stroke="#ff0000" stroke-width="0.5"/><polygon points="620.7,165.55 618.49,161.72 622.91,161.72" fill="#ff1a1a" stroke="#ff0000" stroke-width="0.5"/><polygon points="625.66,164.95 623.45,161.12 627.87,161.12" fill="#ff1a1a" stroke="#ff0000" stroke-width="0.5"/><polygon points="631.07,164.05 628.86,160.22 633.28,160.22" fill="#ff1a1a" stroke="#ff0000" stroke-width="0.5"/><polygon points="636.13,163.85 633.92,160.03 638.33,160.03" fill="#ff1a1a" stroke="#ff0000" stroke-width="0.5"/><polygon points="640.87,163.05 638.66,159.22 643.08,159.22" fill="#ff1a1a" stroke="#ff0000" stroke-width="0.5"/><polygon points="645.95,162.15 643.74,158.32 648.16,158.32" fill="#ff1a1a" stroke="#ff0000" stroke-width="0.5"/><polygon points="650.72,162.15 648.51,158.32 652.93,158.32" fill="#ff1a1a" stroke="#ff0000" stroke-width="0.5"/><polygon points="655.76,161.25 653.55,157.42 657.96,157.42" fill="#ff1a1a" stroke="#ff0000" stroke-width="0.5"/><polygon points="660.48,160.65 658.27,156.82 662.69,156.82" fill="#ff1a1a" stroke="#ff0000" stroke-width="0.5"/><polyline points="412.53,191.3 424.38,191.6 434.65,180 443.7,180 451.8,168.2 459.13,168.2 465.82,156 471.97,156 477.66,144 482.97,144 487.93,132.3 492.59,132.3 496.98,120.3 501.14,120.3 505.08,108.1 508.83,108.1 512.41,96.4 515.83,96.4 522.24,84.4 528.15,89.5 533.64,90.1 538.77,78.3 543.58,78.2 548.1,66.6 552.37,66.6 558.36,55.3 563.92,56.4 569.11,52.6 573.96,53.1 578.53,45.4 584.23,46.3 589.53,40.7 594.49,37.5 600.28,42 605.65,37.9 610.68,35.4 615.4,35.6 620.7,34 625.66,32.8 631.07,26.5 636.13,25.5 640.87,19.3 645.95,20.4 650.72,22.3 655.76,20.4 660.48,20.7" fill="none" stroke="#0000f5" stroke-width="1.0" stroke-linejoin="round"/><circle cx="412.53" cy="191.3" r="2.05" fill="#4d4dff" stroke="#0000f5" stroke-width="1.0"/><circle cx="424.38" cy="191.6" r="2.05" fill="#4d4dff" stroke="#0000f5" stroke-width="1.0"/><circle cx="434.65" cy="180" r="2.05" fill="#4d4dff" stroke="#0000f5" stroke-width="1.0"/><circle cx="443.7" cy="180" r="2.05" fill="#4d4dff" stroke="#0000f5" stroke-width="1.0"/><circle cx="451.8" cy="168.2" r="2.05" fill="#4d4dff" stroke="#0000f5" stroke-width="1.0"/><circle cx="459.13" cy="168.2" r="2.05" fill="#4d4dff" stroke="#0000f5" stroke-width="1.0"/><circle cx="465.82" cy="156" r="2.05" fill="#4d4dff" stroke="#0000f5" stroke-width="1.0"/><circle cx="471.97" cy="156" r="2.05" fill="#4d4dff" stroke="#0000f5" stroke-width="1.0"/><circle cx="477.66" cy="144" r="2.05" fill="#4d4dff" stroke="#0000f5" stroke-width="1.0"/><circle cx="482.97" cy="144" r="2.05" fill="#4d4dff" stroke="#0000f5" stroke-width="1.0"/><circle cx="487.93" cy="132.3" r="2.05" fill="#4d4dff" stroke="#0000f5" stroke-width="1.0"/><circle cx="492.59" cy="132.3" r="2.05" fill="#4d4dff" stroke="#0000f5" stroke-width="1.0"/><circle cx="496.98" cy="120.3" r="2.05" fill="#4d4dff" stroke="#0000f5" stroke-width="1.0"/><circle cx="501.14" cy="120.3" r="2.05" fill="#4d4dff" stroke="#0000f5" stroke-width="1.0"/><circle cx="505.08" cy="108.1" r="2.05" fill="#4d4dff" stroke="#0000f5" stroke-width="1.0"/><circle cx="508.83" cy="108.1" r="2.05" fill="#4d4dff" stroke="#0000f5" stroke-width="1.0"/><circle cx="512.41" cy="96.4" r="2.05" fill="#4d4dff" stroke="#0000f5" stroke-width="1.0"/><circle cx="515.83" cy="96.4" r="2.05" fill="#4d4dff" stroke="#0000f5" stroke-width="1.0"/><circle cx="522.24" cy="84.4" r="2.05" fill="#4d4dff" stroke="#0000f5" stroke-width="1.0"/><circle cx="528.15" cy="89.5" r="2.05" fill="#4d4dff" stroke="#0000f5" stroke-width="1.0"/><circle cx="533.64" cy="90.1" r="2.05" fill="#4d4dff" stroke="#0000f5" stroke-width="1.0"/><circle cx="538.77" cy="78.3" r="2.05" fill="#4d4dff" stroke="#0000f5" stroke-width="1.0"/><circle cx="543.58" cy="78.2" r="2.05" fill="#4d4dff" stroke="#0000f5" stroke-width="1.0"/><circle cx="548.1" cy="66.6" r="2.05" fill="#4d4dff" stroke="#0000f5" stroke-width="1.0"/><circle cx="552.37" cy="66.6" r="2.05" fill="#4d4dff" stroke="#0000f5" stroke-width="1.0"/><circle cx="558.36" cy="55.3" r="2.05" fill="#4d4dff" stroke="#0000f5" stroke-width="1.0"/><circle cx="563.92" cy="56.4" r="2.05" fill="#4d4dff" stroke="#0000f5" stroke-width="1.0"/><circle cx="569.11" cy="52.6" r="2.05" fill="#4d4dff" stroke="#0000f5" stroke-width="1.0"/><circle cx="573.96" cy="53.1" r="2.05" fill="#4d4dff" stroke="#0000f5" stroke-width="1.0"/><circle cx="578.53" cy="45.4" r="2.05" fill="#4d4dff" stroke="#0000f5" stroke-width="1.0"/><circle cx="584.23" cy="46.3" r="2.05" fill="#4d4dff" stroke="#0000f5" stroke-width="1.0"/><circle cx="589.53" cy="40.7" r="2.05" fill="#4d4dff" stroke="#0000f5" stroke-width="1.0"/><circle cx="594.49" cy="37.5" r="2.05" fill="#4d4dff" stroke="#0000f5" stroke-width="1.0"/><circle cx="600.28" cy="42" r="2.05" fill="#4d4dff" stroke="#0000f5" stroke-width="1.0"/><circle cx="605.65" cy="37.9" r="2.05" fill="#4d4dff" stroke="#0000f5" stroke-width="1.0"/><circle cx="610.68" cy="35.4" r="2.05" fill="#4d4dff" stroke="#0000f5" stroke-width="1.0"/><circle cx="615.4" cy="35.6" r="2.05" fill="#4d4dff" stroke="#0000f5" stroke-width="1.0"/><circle cx="620.7" cy="34" r="2.05" fill="#4d4dff" stroke="#0000f5" stroke-width="1.0"/><circle cx="625.66" cy="32.8" r="2.05" fill="#4d4dff" stroke="#0000f5" stroke-width="1.0"/><circle cx="631.07" cy="26.5" r="2.05" fill="#4d4dff" stroke="#0000f5" stroke-width="1.0"/><circle cx="636.13" cy="25.5" r="2.05" fill="#4d4dff" stroke="#0000f5" stroke-width="1.0"/><circle cx="640.87" cy="19.3" r="2.05" fill="#4d4dff" stroke="#0000f5" stroke-width="1.0"/><circle cx="645.95" cy="20.4" r="2.05" fill="#4d4dff" stroke="#0000f5" stroke-width="1.0"/><circle cx="650.72" cy="22.3" r="2.05" fill="#4d4dff" stroke="#0000f5" stroke-width="1.0"/><circle cx="655.76" cy="20.4" r="2.05" fill="#4d4dff" stroke="#0000f5" stroke-width="1.0"/><circle cx="660.48" cy="20.7" r="2.05" fill="#4d4dff" stroke="#0000f5" stroke-width="1.0"/><line x1="400.0" y1="15.6" x2="417.0" y2="15.6" stroke="#0000f5" stroke-width="0.9"/><circle cx="408.6" cy="15.6" r="2.05" fill="#4d4dff" stroke="#0000f5" stroke-width="1.0"/><line x1="400.0" y1="27.0" x2="417.0" y2="27.0" stroke="#ff0000" stroke-width="0.9"/><polygon points="408.6,29.55 406.39,25.73 410.81,25.73" fill="#ff1a1a" stroke="#ff0000" stroke-width="0.5"/><line x1="400.0" y1="38.4" x2="417.0" y2="38.4" stroke="#00ff00" stroke-width="0.9"/><polygon points="408.6,35.85 406.39,39.67 410.81,39.67" fill="#00e600" stroke="#00ff00" stroke-width="0.5"/><text x="419.6" y="18.1" textLength="73.9" lengthAdjust="spacingAndGlyphs" style="font-family:'Liberation Serif',serif;fill:#333;font-size:9.3px">no preconditioning</text><text x="419.6" y="29.5" textLength="97.6" lengthAdjust="spacingAndGlyphs" style="font-family:'Liberation Serif',serif;fill:#333;font-size:9.3px">diagonal preconditioning</text><text x="419.6" y="40.9" textLength="76.3" lengthAdjust="spacingAndGlyphs" style="font-family:'Liberation Serif',serif;fill:#333;font-size:9.3px">AS preconditioning</text><text x="479.4" y="249.6" textLength="101.2" lengthAdjust="spacingAndGlyphs" style="font-family:'Liberation Serif',serif;fill:#333;font-size:12.8px">number of elements</text><text x="584.0" y="249.6" textLength="10.6" lengthAdjust="spacingAndGlyphs" style="font-family:'Liberation Serif',serif;fill:#333;font-size:13.2px;font-style:italic">N</text><text transform="translate(360.2,105.0) rotate(-90)" text-anchor="middle" textLength="91.5" lengthAdjust="spacingAndGlyphs" style="font-family:'Liberation Serif',serif;fill:#333;font-size:12.8px">condition number</text><rect x="66.6" y="255.6" width="242.9" height="93.6" fill="none" stroke="#5a5a5a" stroke-width="1"/><path d="M94.3,349.2v-3.2M94.3,255.6v3.2M141.23,349.2v-3.2M141.23,255.6v3.2M188.15,349.2v-3.2M188.15,255.6v3.2M235.07,349.2v-3.2M235.07,255.6v3.2M282,349.2v-3.2M282,255.6v3.2M66.6,255.6h3.2M309.5,255.6h-3.2M66.6,302.5h3.2M309.5,302.5h-3.2M66.6,349.2h3.2M309.5,349.2h-3.2" stroke="#5a5a5a" stroke-width="1" fill="none"/><text x="94.3" y="359.4" text-anchor="middle" style="font-family:'Liberation Sans',sans-serif;font-size:6.9px;fill:#333333">-1</text><text x="141.23" y="359.4" text-anchor="middle" style="font-family:'Liberation Sans',sans-serif;font-size:6.9px;fill:#333333">-0.5</text><text x="188.15" y="359.4" text-anchor="middle" style="font-family:'Liberation Sans',sans-serif;font-size:6.9px;fill:#333333">0</text><text x="235.07" y="359.4" text-anchor="middle" style="font-family:'Liberation Sans',sans-serif;font-size:6.9px;fill:#333333">0.5</text><text x="282" y="359.4" text-anchor="middle" style="font-family:'Liberation Sans',sans-serif;font-size:6.9px;fill:#333333">1</text><text x="62.2" y="258.5" text-anchor="end" style="font-family:'Liberation Sans',sans-serif;font-size:6.9px;fill:#333333">0.5</text><text x="62.2" y="304.8" text-anchor="end" style="font-family:'Liberation Sans',sans-serif;font-size:6.9px;fill:#333333">0</text><text x="62.2" y="351.8" text-anchor="end" style="font-family:'Liberation Sans',sans-serif;font-size:6.9px;fill:#333333">-0.5</text><line x1="94.3" y1="302.5" x2="282" y2="302.5" stroke="#000" stroke-width="1"/><circle cx="282" cy="302.5" r="2.15" fill="#ff0000"/><circle cx="235.07" cy="302.5" r="2.15" fill="#ff0000"/><circle cx="188.15" cy="302.5" r="2.15" fill="#ff0000"/><circle cx="141.23" cy="302.5" r="2.15" fill="#ff0000"/><circle cx="141.23" cy="302.5" r="2.15" fill="#ff0000"/><circle cx="117.76" cy="302.5" r="2.15" fill="#ff0000"/><circle cx="106.03" cy="302.5" r="2.15" fill="#ff0000"/><circle cx="100.17" cy="302.5" r="2.15" fill="#ff0000"/><circle cx="97.23" cy="302.5" r="2.15" fill="#ff0000"/><circle cx="95.77" cy="302.5" r="2.15" fill="#ff0000"/><circle cx="95.03" cy="302.5" r="2.15" fill="#ff0000"/><circle cx="94.3" cy="302.5" r="2.15" fill="#ff0000"/><path d="M279.95,302.5a2.05,2.05 0 1,0 4.1,0a2.05,2.05 0 1,0 -4.1,0M233.02,302.5a2.05,2.05 0 1,0 4.1,0a2.05,2.05 0 1,0 -4.1,0M186.1,302.5a2.05,2.05 0 1,0 4.1,0a2.05,2.05 0 1,0 -4.1,0M139.18,302.5a2.05,2.05 0 1,0 4.1,0a2.05,2.05 0 1,0 -4.1,0M139.18,302.5a2.05,2.05 0 1,0 4.1,0a2.05,2.05 0 1,0 -4.1,0M115.71,302.5a2.05,2.05 0 1,0 4.1,0a2.05,2.05 0 1,0 -4.1,0M103.98,302.5a2.05,2.05 0 1,0 4.1,0a2.05,2.05 0 1,0 -4.1,0M98.12,302.5a2.05,2.05 0 1,0 4.1,0a2.05,2.05 0 1,0 -4.1,0M95.18,302.5a2.05,2.05 0 1,0 4.1,0a2.05,2.05 0 1,0 -4.1,0M93.72,302.5a2.05,2.05 0 1,0 4.1,0a2.05,2.05 0 1,0 -4.1,0M92.98,302.5a2.05,2.05 0 1,0 4.1,0a2.05,2.05 0 1,0 -4.1,0M92.25,302.5a2.05,2.05 0 1,0 4.1,0a2.05,2.05 0 1,0 -4.1,0" fill="none" stroke="#000" stroke-width="1.0"/><rect x="415.7" y="257.6" width="243.5" height="93.4" fill="none" stroke="#5a5a5a" stroke-width="1"/><path d="M443.8,351.0v-3.2M443.8,257.6v3.2M490.67,351.0v-3.2M490.67,257.6v3.2M537.55,351.0v-3.2M537.55,257.6v3.2M584.42,351.0v-3.2M584.42,257.6v3.2M631.3,351.0v-3.2M631.3,257.6v3.2M415.7,257.6h3.2M659.2,257.6h-3.2M415.7,304.2h3.2M659.2,304.2h-3.2M415.7,351h3.2M659.2,351h-3.2" stroke="#5a5a5a" stroke-width="1" fill="none"/><text x="443.8" y="361.5" text-anchor="middle" style="font-family:'Liberation Sans',sans-serif;font-size:6.9px;fill:#333333">-1</text><text x="490.67" y="361.5" text-anchor="middle" style="font-family:'Liberation Sans',sans-serif;font-size:6.9px;fill:#333333">-0.5</text><text x="537.55" y="361.5" text-anchor="middle" style="font-family:'Liberation Sans',sans-serif;font-size:6.9px;fill:#333333">0</text><text x="584.42" y="361.5" text-anchor="middle" style="font-family:'Liberation Sans',sans-serif;font-size:6.9px;fill:#333333">0.5</text><text x="631.3" y="361.5" text-anchor="middle" style="font-family:'Liberation Sans',sans-serif;font-size:6.9px;fill:#333333">1</text><text x="411.2" y="260" text-anchor="end" style="font-family:'Liberation Sans',sans-serif;font-size:6.9px;fill:#333333">0.5</text><text x="411.2" y="306.5" text-anchor="end" style="font-family:'Liberation Sans',sans-serif;font-size:6.9px;fill:#333333">0</text><text x="411.2" y="353.6" text-anchor="end" style="font-family:'Liberation Sans',sans-serif;font-size:6.9px;fill:#333333">-0.5</text><line x1="443.8" y1="304.2" x2="631.3" y2="304.2" stroke="#000" stroke-width="1"/><circle cx="537.55" cy="304.2" r="2.15" fill="#ff0000"/><circle cx="549.46" cy="304.2" r="2.15" fill="#ff0000"/><circle cx="525.64" cy="304.2" r="2.15" fill="#ff0000"/><circle cx="555.08" cy="304.2" r="2.15" fill="#ff0000"/><circle cx="520.02" cy="304.2" r="2.15" fill="#ff0000"/><circle cx="560.99" cy="304.2" r="2.15" fill="#ff0000"/><circle cx="514.11" cy="304.2" r="2.15" fill="#ff0000"/><circle cx="566.89" cy="304.2" r="2.15" fill="#ff0000"/><circle cx="508.21" cy="304.2" r="2.15" fill="#ff0000"/><circle cx="572.42" cy="304.2" r="2.15" fill="#ff0000"/><circle cx="502.67" cy="304.2" r="2.15" fill="#ff0000"/><circle cx="575.52" cy="304.2" r="2.15" fill="#ff0000"/><circle cx="499.58" cy="304.2" r="2.15" fill="#ff0000"/><circle cx="578.61" cy="304.2" r="2.15" fill="#ff0000"/><circle cx="496.49" cy="304.2" r="2.15" fill="#ff0000"/><circle cx="581.71" cy="304.2" r="2.15" fill="#ff0000"/><circle cx="493.39" cy="304.2" r="2.15" fill="#ff0000"/><circle cx="584.8" cy="304.2" r="2.15" fill="#ff0000"/><circle cx="490.3" cy="304.2" r="2.15" fill="#ff0000"/><circle cx="587.89" cy="304.2" r="2.15" fill="#ff0000"/><circle cx="487.21" cy="304.2" r="2.15" fill="#ff0000"/><circle cx="590.99" cy="304.2" r="2.15" fill="#ff0000"/><circle cx="484.11" cy="304.2" r="2.15" fill="#ff0000"/><circle cx="594.08" cy="304.2" r="2.15" fill="#ff0000"/><circle cx="481.02" cy="304.2" r="2.15" fill="#ff0000"/><circle cx="597.17" cy="304.2" r="2.15" fill="#ff0000"/><circle cx="477.92" cy="304.2" r="2.15" fill="#ff0000"/><circle cx="600.27" cy="304.2" r="2.15" fill="#ff0000"/><circle cx="474.83" cy="304.2" r="2.15" fill="#ff0000"/><circle cx="603.36" cy="304.2" r="2.15" fill="#ff0000"/><circle cx="471.74" cy="304.2" r="2.15" fill="#ff0000"/><circle cx="604.53" cy="304.2" r="2.15" fill="#ff0000"/><circle cx="470.57" cy="304.2" r="2.15" fill="#ff0000"/><circle cx="605.71" cy="304.2" r="2.15" fill="#ff0000"/><circle cx="469.39" cy="304.2" r="2.15" fill="#ff0000"/><circle cx="606.88" cy="304.2" r="2.15" fill="#ff0000"/><circle cx="468.22" cy="304.2" r="2.15" fill="#ff0000"/><circle cx="608.05" cy="304.2" r="2.15" fill="#ff0000"/><circle cx="467.05" cy="304.2" r="2.15" fill="#ff0000"/><circle cx="609.22" cy="304.2" r="2.15" fill="#ff0000"/><circle cx="465.88" cy="304.2" r="2.15" fill="#ff0000"/><circle cx="610.39" cy="304.2" r="2.15" fill="#ff0000"/><circle cx="464.71" cy="304.2" r="2.15" fill="#ff0000"/><circle cx="611.57" cy="304.2" r="2.15" fill="#ff0000"/><circle cx="463.53" cy="304.2" r="2.15" fill="#ff0000"/><circle cx="612.74" cy="304.2" r="2.15" fill="#ff0000"/><circle cx="462.36" cy="304.2" r="2.15" fill="#ff0000"/><circle cx="613.91" cy="304.2" r="2.15" fill="#ff0000"/><circle cx="461.19" cy="304.2" r="2.15" fill="#ff0000"/><circle cx="615.08" cy="304.2" r="2.15" fill="#ff0000"/><circle cx="460.02" cy="304.2" r="2.15" fill="#ff0000"/><circle cx="616.25" cy="304.2" r="2.15" fill="#ff0000"/><circle cx="458.85" cy="304.2" r="2.15" fill="#ff0000"/><circle cx="617.42" cy="304.2" r="2.15" fill="#ff0000"/><circle cx="457.68" cy="304.2" r="2.15" fill="#ff0000"/><circle cx="618.6" cy="304.2" r="2.15" fill="#ff0000"/><circle cx="456.5" cy="304.2" r="2.15" fill="#ff0000"/><circle cx="619.77" cy="304.2" r="2.15" fill="#ff0000"/><circle cx="455.33" cy="304.2" r="2.15" fill="#ff0000"/><circle cx="620.94" cy="304.2" r="2.15" fill="#ff0000"/><circle cx="454.16" cy="304.2" r="2.15" fill="#ff0000"/><circle cx="622.11" cy="304.2" r="2.15" fill="#ff0000"/><circle cx="452.99" cy="304.2" r="2.15" fill="#ff0000"/><circle cx="623.28" cy="304.2" r="2.15" fill="#ff0000"/><circle cx="451.82" cy="304.2" r="2.15" fill="#ff0000"/><circle cx="624.46" cy="304.2" r="2.15" fill="#ff0000"/><circle cx="450.64" cy="304.2" r="2.15" fill="#ff0000"/><circle cx="625.63" cy="304.2" r="2.15" fill="#ff0000"/><circle cx="449.47" cy="304.2" r="2.15" fill="#ff0000"/><circle cx="626.1" cy="304.2" r="2.15" fill="#ff0000"/><circle cx="449" cy="304.2" r="2.15" fill="#ff0000"/><circle cx="626.57" cy="304.2" r="2.15" fill="#ff0000"/><circle cx="448.53" cy="304.2" r="2.15" fill="#ff0000"/><circle cx="627.03" cy="304.2" r="2.15" fill="#ff0000"/><circle cx="448.07" cy="304.2" r="2.15" fill="#ff0000"/><circle cx="627.5" cy="304.2" r="2.15" fill="#ff0000"/><circle cx="447.6" cy="304.2" r="2.15" fill="#ff0000"/><circle cx="627.97" cy="304.2" r="2.15" fill="#ff0000"/><circle cx="447.13" cy="304.2" r="2.15" fill="#ff0000"/><circle cx="628.44" cy="304.2" r="2.15" fill="#ff0000"/><circle cx="446.66" cy="304.2" r="2.15" fill="#ff0000"/><circle cx="628.91" cy="304.2" r="2.15" fill="#ff0000"/><circle cx="446.19" cy="304.2" r="2.15" fill="#ff0000"/><circle cx="629.38" cy="304.2" r="2.15" fill="#ff0000"/><circle cx="445.72" cy="304.2" r="2.15" fill="#ff0000"/><circle cx="629.85" cy="304.2" r="2.15" fill="#ff0000"/><circle cx="445.25" cy="304.2" r="2.15" fill="#ff0000"/><circle cx="630.32" cy="304.2" r="2.15" fill="#ff0000"/><circle cx="444.78" cy="304.2" r="2.15" fill="#ff0000"/><circle cx="630.78" cy="304.2" r="2.15" fill="#ff0000"/><circle cx="444.32" cy="304.2" r="2.15" fill="#ff0000"/><circle cx="631.25" cy="304.2" r="2.15" fill="#ff0000"/><circle cx="443.85" cy="304.2" r="2.15" fill="#ff0000"/><circle cx="631.3" cy="304.2" r="2.15" fill="#ff0000"/><circle cx="443.8" cy="304.2" r="2.15" fill="#ff0000"/><path d="M535.5,304.2a2.05,2.05 0 1,0 4.1,0a2.05,2.05 0 1,0 -4.1,0M547.41,304.2a2.05,2.05 0 1,0 4.1,0a2.05,2.05 0 1,0 -4.1,0M523.59,304.2a2.05,2.05 0 1,0 4.1,0a2.05,2.05 0 1,0 -4.1,0M553.03,304.2a2.05,2.05 0 1,0 4.1,0a2.05,2.05 0 1,0 -4.1,0M517.97,304.2a2.05,2.05 0 1,0 4.1,0a2.05,2.05 0 1,0 -4.1,0M558.94,304.2a2.05,2.05 0 1,0 4.1,0a2.05,2.05 0 1,0 -4.1,0M512.06,304.2a2.05,2.05 0 1,0 4.1,0a2.05,2.05 0 1,0 -4.1,0M564.84,304.2a2.05,2.05 0 1,0 4.1,0a2.05,2.05 0 1,0 -4.1,0M506.16,304.2a2.05,2.05 0 1,0 4.1,0a2.05,2.05 0 1,0 -4.1,0M570.38,304.2a2.05,2.05 0 1,0 4.1,0a2.05,2.05 0 1,0 -4.1,0M500.62,304.2a2.05,2.05 0 1,0 4.1,0a2.05,2.05 0 1,0 -4.1,0M573.47,304.2a2.05,2.05 0 1,0 4.1,0a2.05,2.05 0 1,0 -4.1,0M497.53,304.2a2.05,2.05 0 1,0 4.1,0a2.05,2.05 0 1,0 -4.1,0M576.56,304.2a2.05,2.05 0 1,0 4.1,0a2.05,2.05 0 1,0 -4.1,0M494.44,304.2a2.05,2.05 0 1,0 4.1,0a2.05,2.05 0 1,0 -4.1,0M579.66,304.2a2.05,2.05 0 1,0 4.1,0a2.05,2.05 0 1,0 -4.1,0M491.34,304.2a2.05,2.05 0 1,0 4.1,0a2.05,2.05 0 1,0 -4.1,0M582.75,304.2a2.05,2.05 0 1,0 4.1,0a2.05,2.05 0 1,0 -4.1,0M488.25,304.2a2.05,2.05 0 1,0 4.1,0a2.05,2.05 0 1,0 -4.1,0M585.84,304.2a2.05,2.05 0 1,0 4.1,0a2.05,2.05 0 1,0 -4.1,0M485.16,304.2a2.05,2.05 0 1,0 4.1,0a2.05,2.05 0 1,0 -4.1,0M588.94,304.2a2.05,2.05 0 1,0 4.1,0a2.05,2.05 0 1,0 -4.1,0M482.06,304.2a2.05,2.05 0 1,0 4.1,0a2.05,2.05 0 1,0 -4.1,0M592.03,304.2a2.05,2.05 0 1,0 4.1,0a2.05,2.05 0 1,0 -4.1,0M478.97,304.2a2.05,2.05 0 1,0 4.1,0a2.05,2.05 0 1,0 -4.1,0M595.12,304.2a2.05,2.05 0 1,0 4.1,0a2.05,2.05 0 1,0 -4.1,0M475.87,304.2a2.05,2.05 0 1,0 4.1,0a2.05,2.05 0 1,0 -4.1,0M598.22,304.2a2.05,2.05 0 1,0 4.1,0a2.05,2.05 0 1,0 -4.1,0M472.78,304.2a2.05,2.05 0 1,0 4.1,0a2.05,2.05 0 1,0 -4.1,0M601.31,304.2a2.05,2.05 0 1,0 4.1,0a2.05,2.05 0 1,0 -4.1,0M469.69,304.2a2.05,2.05 0 1,0 4.1,0a2.05,2.05 0 1,0 -4.1,0M602.48,304.2a2.05,2.05 0 1,0 4.1,0a2.05,2.05 0 1,0 -4.1,0M468.52,304.2a2.05,2.05 0 1,0 4.1,0a2.05,2.05 0 1,0 -4.1,0M603.66,304.2a2.05,2.05 0 1,0 4.1,0a2.05,2.05 0 1,0 -4.1,0M467.34,304.2a2.05,2.05 0 1,0 4.1,0a2.05,2.05 0 1,0 -4.1,0M604.83,304.2a2.05,2.05 0 1,0 4.1,0a2.05,2.05 0 1,0 -4.1,0M466.17,304.2a2.05,2.05 0 1,0 4.1,0a2.05,2.05 0 1,0 -4.1,0M606,304.2a2.05,2.05 0 1,0 4.1,0a2.05,2.05 0 1,0 -4.1,0M465,304.2a2.05,2.05 0 1,0 4.1,0a2.05,2.05 0 1,0 -4.1,0M607.17,304.2a2.05,2.05 0 1,0 4.1,0a2.05,2.05 0 1,0 -4.1,0M463.83,304.2a2.05,2.05 0 1,0 4.1,0a2.05,2.05 0 1,0 -4.1,0M608.34,304.2a2.05,2.05 0 1,0 4.1,0a2.05,2.05 0 1,0 -4.1,0M462.66,304.2a2.05,2.05 0 1,0 4.1,0a2.05,2.05 0 1,0 -4.1,0M609.52,304.2a2.05,2.05 0 1,0 4.1,0a2.05,2.05 0 1,0 -4.1,0M461.48,304.2a2.05,2.05 0 1,0 4.1,0a2.05,2.05 0 1,0 -4.1,0M610.69,304.2a2.05,2.05 0 1,0 4.1,0a2.05,2.05 0 1,0 -4.1,0M460.31,304.2a2.05,2.05 0 1,0 4.1,0a2.05,2.05 0 1,0 -4.1,0M611.86,304.2a2.05,2.05 0 1,0 4.1,0a2.05,2.05 0 1,0 -4.1,0M459.14,304.2a2.05,2.05 0 1,0 4.1,0a2.05,2.05 0 1,0 -4.1,0M613.03,304.2a2.05,2.05 0 1,0 4.1,0a2.05,2.05 0 1,0 -4.1,0M457.97,304.2a2.05,2.05 0 1,0 4.1,0a2.05,2.05 0 1,0 -4.1,0M614.2,304.2a2.05,2.05 0 1,0 4.1,0a2.05,2.05 0 1,0 -4.1,0M456.8,304.2a2.05,2.05 0 1,0 4.1,0a2.05,2.05 0 1,0 -4.1,0M615.38,304.2a2.05,2.05 0 1,0 4.1,0a2.05,2.05 0 1,0 -4.1,0M455.62,304.2a2.05,2.05 0 1,0 4.1,0a2.05,2.05 0 1,0 -4.1,0M616.55,304.2a2.05,2.05 0 1,0 4.1,0a2.05,2.05 0 1,0 -4.1,0M454.45,304.2a2.05,2.05 0 1,0 4.1,0a2.05,2.05 0 1,0 -4.1,0M617.72,304.2a2.05,2.05 0 1,0 4.1,0a2.05,2.05 0 1,0 -4.1,0M453.28,304.2a2.05,2.05 0 1,0 4.1,0a2.05,2.05 0 1,0 -4.1,0M618.89,304.2a2.05,2.05 0 1,0 4.1,0a2.05,2.05 0 1,0 -4.1,0M452.11,304.2a2.05,2.05 0 1,0 4.1,0a2.05,2.05 0 1,0 -4.1,0M620.06,304.2a2.05,2.05 0 1,0 4.1,0a2.05,2.05 0 1,0 -4.1,0M450.94,304.2a2.05,2.05 0 1,0 4.1,0a2.05,2.05 0 1,0 -4.1,0M621.23,304.2a2.05,2.05 0 1,0 4.1,0a2.05,2.05 0 1,0 -4.1,0M449.77,304.2a2.05,2.05 0 1,0 4.1,0a2.05,2.05 0 1,0 -4.1,0M622.41,304.2a2.05,2.05 0 1,0 4.1,0a2.05,2.05 0 1,0 -4.1,0M448.59,304.2a2.05,2.05 0 1,0 4.1,0a2.05,2.05 0 1,0 -4.1,0M623.58,304.2a2.05,2.05 0 1,0 4.1,0a2.05,2.05 0 1,0 -4.1,0M447.42,304.2a2.05,2.05 0 1,0 4.1,0a2.05,2.05 0 1,0 -4.1,0M624.05,304.2a2.05,2.05 0 1,0 4.1,0a2.05,2.05 0 1,0 -4.1,0M446.95,304.2a2.05,2.05 0 1,0 4.1,0a2.05,2.05 0 1,0 -4.1,0M624.52,304.2a2.05,2.05 0 1,0 4.1,0a2.05,2.05 0 1,0 -4.1,0M446.48,304.2a2.05,2.05 0 1,0 4.1,0a2.05,2.05 0 1,0 -4.1,0M624.98,304.2a2.05,2.05 0 1,0 4.1,0a2.05,2.05 0 1,0 -4.1,0M446.02,304.2a2.05,2.05 0 1,0 4.1,0a2.05,2.05 0 1,0 -4.1,0M625.45,304.2a2.05,2.05 0 1,0 4.1,0a2.05,2.05 0 1,0 -4.1,0M445.55,304.2a2.05,2.05 0 1,0 4.1,0a2.05,2.05 0 1,0 -4.1,0M625.92,304.2a2.05,2.05 0 1,0 4.1,0a2.05,2.05 0 1,0 -4.1,0M445.08,304.2a2.05,2.05 0 1,0 4.1,0a2.05,2.05 0 1,0 -4.1,0M626.39,304.2a2.05,2.05 0 1,0 4.1,0a2.05,2.05 0 1,0 -4.1,0M444.61,304.2a2.05,2.05 0 1,0 4.1,0a2.05,2.05 0 1,0 -4.1,0M626.86,304.2a2.05,2.05 0 1,0 4.1,0a2.05,2.05 0 1,0 -4.1,0M444.14,304.2a2.05,2.05 0 1,0 4.1,0a2.05,2.05 0 1,0 -4.1,0M627.33,304.2a2.05,2.05 0 1,0 4.1,0a2.05,2.05 0 1,0 -4.1,0M443.67,304.2a2.05,2.05 0 1,0 4.1,0a2.05,2.05 0 1,0 -4.1,0M627.8,304.2a2.05,2.05 0 1,0 4.1,0a2.05,2.05 0 1,0 -4.1,0M443.2,304.2a2.05,2.05 0 1,0 4.1,0a2.05,2.05 0 1,0 -4.1,0M628.27,304.2a2.05,2.05 0 1,0 4.1,0a2.05,2.05 0 1,0 -4.1,0M442.73,304.2a2.05,2.05 0 1,0 4.1,0a2.05,2.05 0 1,0 -4.1,0M628.73,304.2a2.05,2.05 0 1,0 4.1,0a2.05,2.05 0 1,0 -4.1,0M442.27,304.2a2.05,2.05 0 1,0 4.1,0a2.05,2.05 0 1,0 -4.1,0M629.2,304.2a2.05,2.05 0 1,0 4.1,0a2.05,2.05 0 1,0 -4.1,0M441.8,304.2a2.05,2.05 0 1,0 4.1,0a2.05,2.05 0 1,0 -4.1,0M629.25,304.2a2.05,2.05 0 1,0 4.1,0a2.05,2.05 0 1,0 -4.1,0M441.75,304.2a2.05,2.05 0 1,0 4.1,0a2.05,2.05 0 1,0 -4.1,0" fill="none" stroke="#000" stroke-width="1.0"/></svg></body></html>
